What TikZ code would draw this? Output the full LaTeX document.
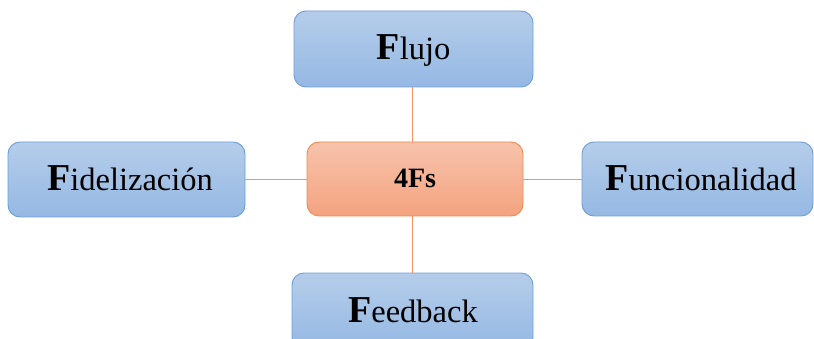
\documentclass[tikz,border=0pt]{standalone}
\usepackage{fontspec}
\setmainfont{Liberation Serif}
\begin{document}
\begin{tikzpicture}[x=1pt,y=-1pt,
  bluebox/.style={draw=boxblueline, line width=0.9pt, rounded corners=12pt,
    top color=boxbluetop, bottom color=boxbluebot},
  hubbox/.style={draw=hubline, line width=0.9pt, rounded corners=12pt,
    top color=hubtop, bottom color=hubbot},
  link/.style={draw=linkcol, line width=0.9pt},
  lbl/.style={font=\fontsize{32.5}{36}\selectfont, inner sep=0pt},
]
\definecolor{boxbluetop}{HTML}{B5CDEA}
\definecolor{boxbluebot}{HTML}{95B8E3}
\definecolor{boxblueline}{HTML}{6E9ED8}
\definecolor{hubtop}{HTML}{F7C3AC}
\definecolor{hubbot}{HTML}{F4A37F}
\definecolor{hubline}{HTML}{EE8A4C}
\definecolor{linkcol}{HTML}{F0965C}
\newcommand{\bigF}{{\fontsize{38}{40}\selectfont\bfseries F}}

\useasboundingbox (0,0) rectangle (814,339);
\clip (0,0) rectangle (814,339);

% boxes
\path[bluebox] (294,11) rectangle (533,87);
\path[hubbox] (307,142) rectangle (523,216);
\path[bluebox] (8,142) rectangle (245,217);
\path[bluebox] (582,142) rectangle (813,216);
\path[bluebox] (292,273) rectangle (533,349);

% anchors of the boxes
\coordinate (flujoS) at (412.5,87);
\coordinate (hubN) at (412.5,142);
\coordinate (hubS) at (412.5,216);
\coordinate (hubW) at (307,179);
\coordinate (hubE) at (523,179);
\coordinate (fideE) at (245,179);
\coordinate (funcW) at (582,179);
\coordinate (feedN) at (412.5,273);

% connectors
\draw[link] (flujoS) -- (hubN);
\draw[link] (hubS) -- (feedN);
\draw[link] (hubW) -- (fideE);
\draw[link] (hubE) -- (funcW);

% labels
\node[lbl, anchor=base] (flujo) at (413.5,60) {\bigF lujo};
\node[inner sep=0pt, anchor=base, font=\fontsize{28}{30}\selectfont\bfseries] (hub) at (415,188) {4Fs};
\node[lbl, anchor=base] (fide) at (130,191) {\bigF idelización};
\node[lbl, anchor=base] (func) at (701,191) {\bigF uncionalidad};
\node[lbl, anchor=base] (feed) at (413,322) {\bigF eedback};
\end{tikzpicture}
\end{document}
